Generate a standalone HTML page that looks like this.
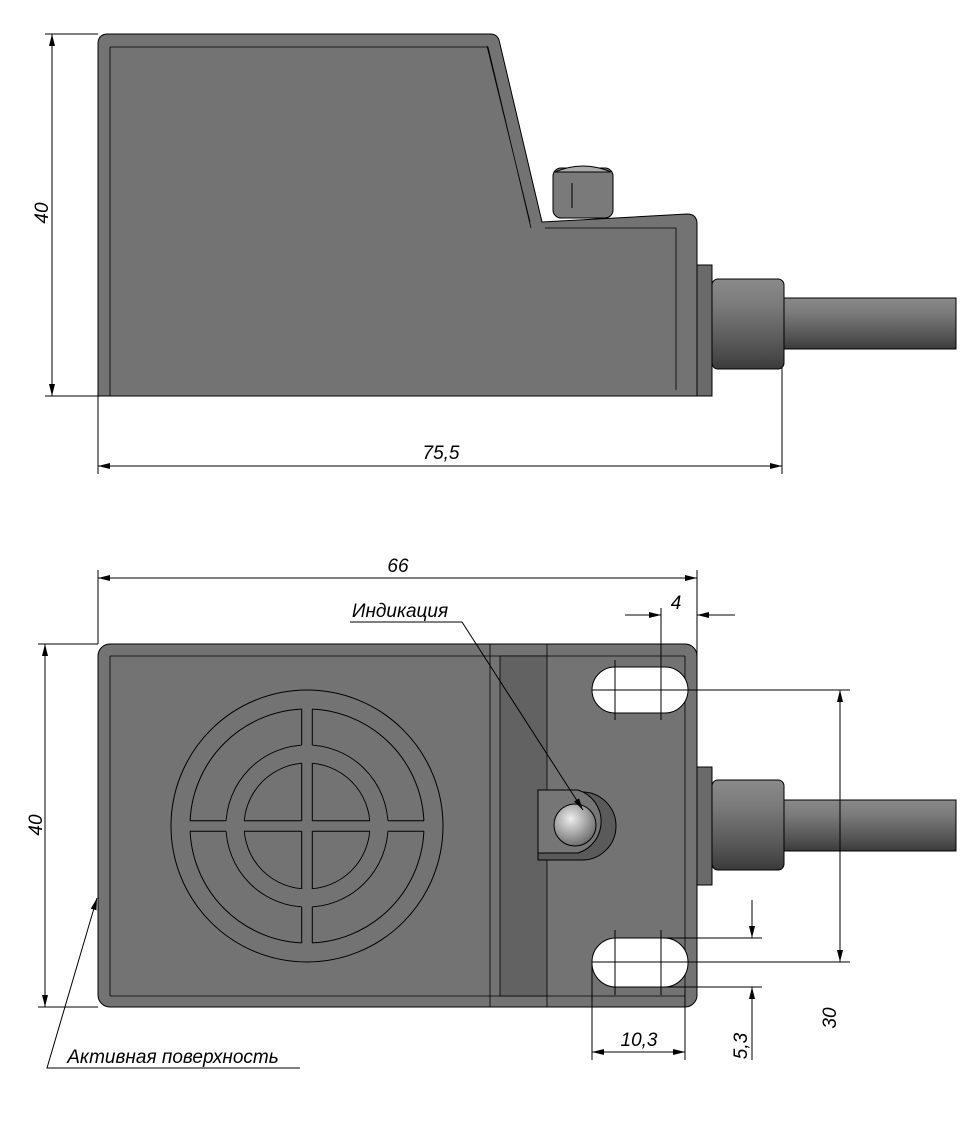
<!DOCTYPE html>
<html><head><meta charset="utf-8"><style>
html,body{margin:0;padding:0;background:#fff}
svg{display:block}
text{font-family:"Liberation Sans",sans-serif;font-style:italic;font-size:19px;fill:#000}
</style></head><body>
<svg width="969" height="1129" viewBox="0 0 969 1129" xmlns="http://www.w3.org/2000/svg">
<defs>
<marker id="a" viewBox="0 0 12 6" refX="12" refY="3" markerWidth="12" markerHeight="6" orient="auto-start-reverse" markerUnits="userSpaceOnUse"><path d="M0,0 L12,3 L0,6 z" fill="#000"/></marker>
<linearGradient id="cyl" x1="0" y1="0" x2="0" y2="1">
<stop offset="0" stop-color="#8a8a8a"/><stop offset="0.3" stop-color="#7a7a7a"/><stop offset="0.8" stop-color="#505050"/><stop offset="1" stop-color="#3a3a3a"/></linearGradient>
<radialGradient id="ball" cx="0.4" cy="0.35" r="0.7"><stop offset="0" stop-color="#eee"/><stop offset="0.5" stop-color="#aaa"/><stop offset="1" stop-color="#666"/></radialGradient>
</defs>
<g stroke="#000" stroke-width="1" fill="none">
<!-- TOP VIEW -->
<rect x="553" y="168" width="60" height="50" rx="8" fill="#7a7a7a"/>
<path d="M555,172 Q583,160 611,172 Z" fill="#aaa"/>
<rect x="697" y="265" width="15" height="131" fill="#6a6a6a"/>
<rect x="712" y="279" width="72" height="90" rx="6" fill="url(#cyl)"/>
<rect x="784" y="298" width="172" height="51" fill="url(#cyl)"/>
<path d="M108,34 L490,34 Q497,34 499,40 L542,222 L687,214 Q697,214 697,224 L697,396 L98,396 L98,44 Q98,34 108,34 Z" fill="#737373"/>
<path d="M110,47 L110,396 M110,47 L488,47 L531,228 M545,228 L676,228 L676,390 M487,46 L530,222" stroke-width="0.8"/>
<line x1="572" y1="183" x2="572" y2="208"/>
<!-- top dims -->
<line x1="45" y1="34" x2="98" y2="34"/><line x1="45" y1="396" x2="98" y2="396"/>
<line x1="52" y1="34" x2="52" y2="396" marker-start="url(#a)" marker-end="url(#a)"/>
<line x1="98" y1="396" x2="98" y2="474"/><line x1="782" y1="368" x2="782" y2="474"/>
<line x1="98" y1="466" x2="782" y2="466" marker-start="url(#a)" marker-end="url(#a)"/>

<!-- BOTTOM VIEW -->
<rect x="697" y="767" width="15" height="118" fill="#6a6a6a"/>
<rect x="712" y="780" width="72" height="90" rx="6" fill="url(#cyl)"/>
<rect x="784" y="800" width="172" height="51" fill="url(#cyl)"/>
<rect x="98" y="644" width="599" height="363" rx="12" fill="#737373"/>
<rect x="500" y="655" width="47" height="342" fill="#626262" stroke="none"/>
<path d="M110,656 L110,996 M110,656 L685,656 M110,996 L685,996 M685,656 L685,996 M490,644 L490,1007 M500,656 L500,996 M547,644 L547,790 M547,860 L547,1007" stroke-width="0.8"/>
<rect x="592" y="667" width="96" height="46" rx="23" fill="#fff"/>
<rect x="592" y="938" width="96" height="49" rx="24" fill="#fff"/>
<path d="M538,792 L582,792 A34,34 0 0 1 582,860 L538,860 Z" fill="#5a5a5a"/>
<path d="M538,790 L578,790 A33,33 0 0 1 578,853 L538,853 Z" fill="#767676"/>
<circle cx="575" cy="825" r="21" fill="url(#ball)"/>
<!-- target -->
<g transform="translate(307,826)" stroke-width="1">
<circle r="136"/><circle r="117"/><circle r="81"/><circle r="63"/>
<rect x="-5.3" y="-118" width="10.6" height="236" fill="#737373" stroke="none"/>
<rect x="-118" y="-5.3" width="236" height="10.6" fill="#737373" stroke="none"/>
<rect x="-5.3" y="-82" width="10.6" height="18" fill="#737373" stroke="none"/>
<circle r="72" stroke="#737373" stroke-width="17"/>
<path d="M-5.3,-117V-81M5.3,-117V-81M-5.3,-63V-5.3M5.3,-63V-5.3M-5.3,63V5.3M5.3,63V5.3M-5.3,117V81M5.3,117V81 M-117,-5.3H-81M-117,5.3H-81M-63,-5.3H-5.3M-63,5.3H-5.3M63,-5.3H5.3M63,5.3H5.3M117,-5.3H81M117,5.3H81"/>
</g>
<!-- bottom dims -->
<line x1="98" y1="570" x2="98" y2="644"/><line x1="697" y1="570" x2="697" y2="660"/>
<line x1="98" y1="578" x2="697" y2="578" marker-start="url(#a)" marker-end="url(#a)"/>
<line x1="661" y1="608" x2="661" y2="720"/><line x1="615" y1="660" x2="615" y2="720"/>
<line x1="625" y1="615" x2="661" y2="615" marker-end="url(#a)"/>
<line x1="735" y1="615" x2="697" y2="615" marker-end="url(#a)"/>
<line x1="592" y1="690" x2="850" y2="690"/><line x1="592" y1="962" x2="850" y2="962"/>
<line x1="840" y1="690" x2="840" y2="962" marker-start="url(#a)" marker-end="url(#a)"/>
<line x1="615" y1="938" x2="762" y2="938"/><line x1="661" y1="987" x2="762" y2="987"/>
<line x1="615" y1="930" x2="615" y2="995"/><line x1="661" y1="930" x2="661" y2="995"/>
<line x1="752" y1="900" x2="752" y2="938" marker-end="url(#a)"/>
<line x1="752" y1="1060" x2="752" y2="987" marker-end="url(#a)"/>
<line x1="592" y1="960" x2="592" y2="1060"/><line x1="685" y1="990" x2="685" y2="1060"/>
<line x1="592" y1="1052" x2="685" y2="1052" marker-start="url(#a)" marker-end="url(#a)"/>
<line x1="38" y1="644" x2="98" y2="644"/><line x1="38" y1="1007" x2="98" y2="1007"/>
<line x1="45" y1="644" x2="45" y2="1007" marker-start="url(#a)" marker-end="url(#a)"/>
<polyline points="350,622 462,622 583,810" marker-end="url(#a)"/>
<polyline points="300,1068 47,1068 97,898" marker-end="url(#a)"/>
</g>
<text x="0" y="0" transform="translate(48,213) rotate(-90)" text-anchor="middle">40</text>
<text x="441" y="459" text-anchor="middle">75,5</text>
<text x="398" y="572" text-anchor="middle">66</text>
<text x="676" y="609" text-anchor="middle">4</text>
<text x="400" y="617" text-anchor="middle">Индикация</text>
<text transform="translate(42,825) rotate(-90)" text-anchor="middle">40</text>
<text transform="translate(836,1018) rotate(-90)" text-anchor="middle">30</text>
<text transform="translate(747,1046) rotate(-90)" text-anchor="middle">5,3</text>
<text x="639" y="1046" text-anchor="middle">10,3</text>
<text x="173" y="1063" text-anchor="middle">Активная поверхность</text>
</svg>
</body></html>
